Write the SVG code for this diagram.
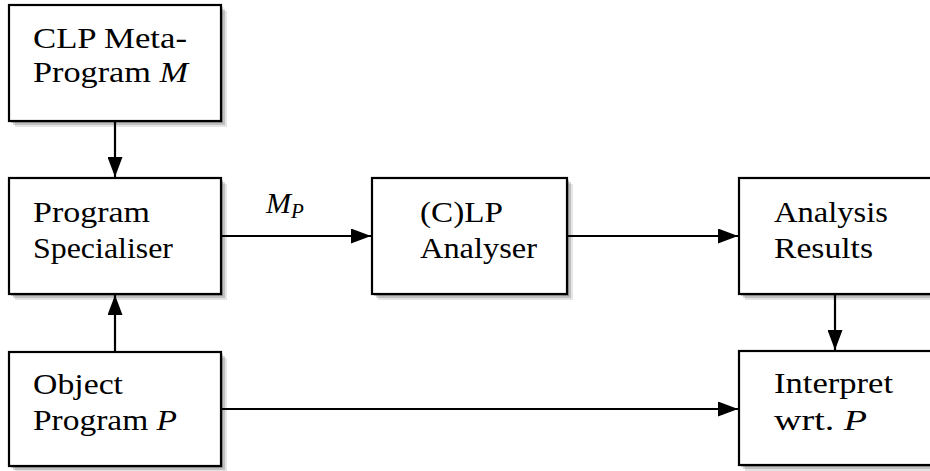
<svg xmlns="http://www.w3.org/2000/svg" width="930" height="471" viewBox="0 0 930 471">
  <defs>
    <marker id="arrow" viewBox="0 0 20 15" refX="20" refY="7.5" markerWidth="20" markerHeight="15" markerUnits="userSpaceOnUse" orient="auto">
      <path d="M0,0 L20,7.5 L0,15 Z" fill="#000"/>
    </marker>
    <style>
      .box { fill: #fff; stroke: #000; stroke-width: 2.2; }
      .sh1 { fill: #000; fill-opacity: 0.10; }
      .sh2 { fill: #000; fill-opacity: 0.16; }
      .sh3 { fill: #000; fill-opacity: 0.22; }
      .it { font-style: italic; }
      .edge { stroke: #000; stroke-width: 2.2; fill: none; marker-end: url(#arrow); }
    </style>
  </defs>
  <rect width="930" height="471" fill="#fff"/>

  <g id="connectors">
    <line class="edge" x1="115" y1="122" x2="115" y2="177"/>
    <line class="edge" x1="115" y1="351" x2="115" y2="295"/>
    <line class="edge" x1="221" y1="236" x2="371" y2="236"/>
    <line class="edge" x1="567" y1="236" x2="738" y2="236"/>
    <line class="edge" x1="835" y1="294" x2="835" y2="350"/>
    <line class="edge" x1="221" y1="409" x2="738" y2="409"/>
    <text font-family="'Liberation Serif', serif" font-size="30" x="266" y="213"><tspan class="it">M</tspan><tspan class="it" font-size="21" dy="5">P</tspan></text>
  </g>

  <g id="meta-program">
    <rect class="sh1" x="15" y="11" width="212" height="116"/>
    <rect class="sh2" x="13" y="9" width="212" height="116"/>
    <rect class="sh3" x="11" y="7" width="212" height="116"/>
    <rect class="box" x="9" y="5" width="212" height="116"/>
    <text font-family="'Liberation Serif', serif" font-size="30" x="33" y="48" textLength="154" lengthAdjust="spacingAndGlyphs">CLP Meta-</text>
    <text font-family="'Liberation Serif', serif" font-size="30" x="33" y="82" textLength="155" lengthAdjust="spacingAndGlyphs">Program <tspan class="it">M</tspan></text>
  </g>

  <g id="specialiser">
    <rect class="sh1" x="15" y="184" width="212" height="116"/>
    <rect class="sh2" x="13" y="182" width="212" height="116"/>
    <rect class="sh3" x="11" y="180" width="212" height="116"/>
    <rect class="box" x="9" y="178" width="212" height="116"/>
    <text font-family="'Liberation Serif', serif" font-size="30" x="33" y="222" textLength="117" lengthAdjust="spacingAndGlyphs">Program</text>
    <text font-family="'Liberation Serif', serif" font-size="30" x="33" y="258" textLength="140" lengthAdjust="spacingAndGlyphs">Specialiser</text>
  </g>

  <g id="analyser">
    <rect class="sh1" x="378" y="184" width="195" height="116"/>
    <rect class="sh2" x="376" y="182" width="195" height="116"/>
    <rect class="sh3" x="374" y="180" width="195" height="116"/>
    <rect class="box" x="372" y="178" width="195" height="116"/>
    <text font-family="'Liberation Serif', serif" font-size="30" x="420" y="222" textLength="83" lengthAdjust="spacingAndGlyphs">(C)LP</text>
    <text font-family="'Liberation Serif', serif" font-size="30" x="420" y="258" textLength="117" lengthAdjust="spacingAndGlyphs">Analyser</text>
  </g>

  <g id="results">
    <rect class="sh1" x="745" y="184" width="215" height="116"/>
    <rect class="sh2" x="743" y="182" width="215" height="116"/>
    <rect class="sh3" x="741" y="180" width="215" height="116"/>
    <rect class="box" x="739" y="178" width="215" height="116"/>
    <text font-family="'Liberation Serif', serif" font-size="30" x="774" y="222" textLength="114" lengthAdjust="spacingAndGlyphs">Analysis</text>
    <text font-family="'Liberation Serif', serif" font-size="30" x="774" y="258" textLength="99" lengthAdjust="spacingAndGlyphs">Results</text>
  </g>

  <g id="object-program">
    <rect class="sh1" x="15" y="358" width="212" height="114"/>
    <rect class="sh2" x="13" y="356" width="212" height="114"/>
    <rect class="sh3" x="11" y="354" width="212" height="114"/>
    <rect class="box" x="9" y="352" width="212" height="114"/>
    <text font-family="'Liberation Serif', serif" font-size="30" x="33" y="394" textLength="90" lengthAdjust="spacingAndGlyphs">Object</text>
    <text font-family="'Liberation Serif', serif" font-size="30" x="33" y="430" textLength="144" lengthAdjust="spacingAndGlyphs">Program <tspan class="it">P</tspan></text>
  </g>

  <g id="interpret">
    <rect class="sh1" x="745" y="357" width="215" height="114"/>
    <rect class="sh2" x="743" y="355" width="215" height="114"/>
    <rect class="sh3" x="741" y="353" width="215" height="114"/>
    <rect class="box" x="739" y="351" width="215" height="114"/>
    <text font-family="'Liberation Serif', serif" font-size="30" x="774" y="393" textLength="119" lengthAdjust="spacingAndGlyphs">Interpret</text>
    <text font-family="'Liberation Serif', serif" font-size="30" x="774" y="430" textLength="93" lengthAdjust="spacingAndGlyphs">wrt. <tspan class="it">P</tspan></text>
  </g>
</svg>
